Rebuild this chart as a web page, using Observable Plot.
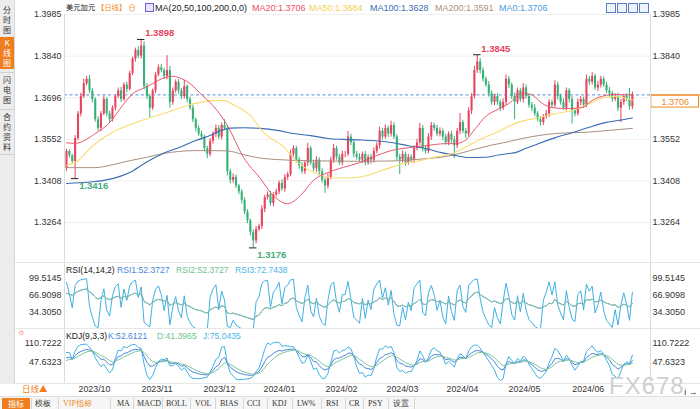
<!DOCTYPE html>
<html><head><meta charset="utf-8">
<script src="https://cdn.jsdelivr.net/npm/d3@7"></script>
<script src="https://cdn.jsdelivr.net/npm/@observablehq/plot@0.6"></script>
<style>
body{margin:0;background:#fff;}
#root{position:relative;width:700px;height:409px;overflow:hidden;font-family:"Liberation Sans",Arial,"Noto Sans CJK SC",sans-serif;color:#222;}
.a{position:absolute;white-space:nowrap;line-height:11px;font-size:9px;}
.cjk{font-family:"Noto Sans CJK SC",sans-serif;}
.side{position:absolute;left:0;width:14px;text-align:center;font-family:"Noto Sans CJK SC",sans-serif;font-size:8px;line-height:10px;color:#333;}
.svgwrap{position:absolute;left:0;}
.tb{position:absolute;top:398px;height:11px;line-height:11px;font-size:8px;font-family:"Liberation Serif",serif;color:#333;white-space:nowrap;}
.sep{position:absolute;top:398px;width:1px;height:11px;background:#d6d6d6;}
.ico{position:absolute;top:3px;width:8px;height:8px;border:1px solid #5a7fc4;background:#eef3fc;}
</style></head>
<body><div id="root"></div>
<script>
// ---------------- DATA ----------------
const firstOpen = 1.3451;
const closes = [
1.3510,1.3495,1.3475,1.3555,1.3640,1.3700,1.3745,1.3760,1.3720,1.3690,
1.3620,1.3590,1.3640,1.3690,1.3640,1.3620,1.3660,1.3700,1.3720,1.3690,
1.3740,1.3725,1.3780,1.3830,1.3860,1.3840,1.3875,1.3735,1.3700,1.3660,
1.3720,1.3775,1.3800,1.3790,1.3770,1.3790,1.3680,1.3720,1.3750,1.3720,
1.3700,1.3735,1.3690,1.3660,1.3620,1.3590,1.3570,1.3560,1.3520,1.3500,
1.3545,1.3570,1.3590,1.3560,1.3600,1.3590,1.3440,1.3410,1.3420,1.3390,
1.3370,1.3340,1.3300,1.3270,1.3230,1.3200,1.3240,1.3250,1.3310,1.3350,
1.3360,1.3330,1.3360,1.3370,1.3400,1.3380,1.3420,1.3430,1.3500,1.3520,
1.3480,1.3460,1.3440,1.3470,1.3520,1.3470,1.3450,1.3480,1.3440,1.3410,
1.3390,1.3420,1.3480,1.3520,1.3490,1.3470,1.3500,1.3500,1.3560,1.3540,
1.3500,1.3490,1.3480,1.3500,1.3470,1.3490,1.3480,1.3510,1.3530,1.3580,
1.3560,1.3590,1.3570,1.3600,1.3560,1.3490,1.3480,1.3500,1.3470,1.3490,
1.3480,1.3520,1.3540,1.3590,1.3520,1.3510,1.3560,1.3600,1.3590,1.3570,
1.3580,1.3560,1.3540,1.3570,1.3550,1.3530,1.3580,1.3610,1.3580,1.3570,
1.3650,1.3700,1.3790,1.3820,1.3790,1.3760,1.3740,1.3710,1.3680,1.3700,
1.3680,1.3660,1.3680,1.3760,1.3740,1.3700,1.3680,1.3720,1.3690,1.3730,
1.3700,1.3670,1.3660,1.3640,1.3620,1.3610,1.3630,1.3640,1.3680,1.3670,
1.3740,1.3700,1.3680,1.3660,1.3720,1.3690,1.3650,1.3640,1.3680,1.3690,
1.3670,1.3760,1.3750,1.3770,1.3730,1.3740,1.3760,1.3740,1.3720,1.3710,
1.3690,1.3700,1.3660,1.3680,1.3700,1.3690,1.3665,1.3706];
// upper / lower wick lengths in pips
const upWick = [
8,6,5,10,8,12,15,10,12,8, 6,10,8,12,6,10,8,6,10,12, 8,10,8,6,8,12,23,15,10,8,
6,8,10,12,8,52,15,10,8,10, 8,21,6,8,10,6,8,10,6,8, 10,8,12,10,8,20,10,8,12,8,
6,8,10,8,6,8,10,8,12,8, 10,12,8,10,8,12,10,8,15,10, 8,10,12,8,18,8,10,12,8,10,
8,12,10,15,8,10,12,10,19,10, 8,10,12,8,10,8,10,12,10,15, 10,12,8,15,10,8,10,12,8,10,
8,10,12,17,10,8,12,10,8,10, 12,8,10,8,10,12,10,31,8,10, 12,10,15,25,12,10,8,12,10,8,
10,8,12,15,10,8,12,10,8,15, 10,8,10,12,8,10,8,12,10,8, 15,10,8,12,10,8,10,8,12,10,
8,15,10,13,8,12,10,8,10,12, 8,10,12,10,8,10,38,10];
const loWick = [
10,8,6,59,8,10,6,8,10,12, 8,10,12,6,10,12,8,10,6,10, 8,12,6,8,10,8,10,12,10,33,
8,10,6,8,10,12,20,10,8,12, 10,8,12,8,10,12,8,10,12,15, 8,10,12,8,10,8,15,12,10,8,
10,12,8,10,12,24,10,8,10,12, 8,10,12,8,10,8,12,10,8,10, 10,12,8,10,12,8,10,12,15,10,
25,10,8,12,10,8,10,12,8,10, 12,10,8,12,10,8,15,10,8,12, 10,8,12,10,8,12,50,10,12,8,
10,12,8,10,12,10,8,12,10,8, 10,12,8,10,12,45,10,12,8,15, 10,12,8,10,12,10,8,12,10,12,
10,12,8,10,12,10,60,8,10,12, 8,10,12,10,8,12,10,8,12,10, 8,12,10,8,10,12,45,10,8,12,
10,8,12,10,8,12,10,8,10,12, 10,8,12,50,10,8,12,10];
// moving averages read at sample points: [candle index, value]
const ma20Pts = [[0,1.3540],[3,1.3538],[10,1.3572],[15,1.3610],[19.5,1.3669],[23,1.3710],[26.5,1.3728],[30,1.3745],[33.4,1.3763],[37,1.3770],[39,1.3766],[43,1.3745],[47.3,1.3704],[51,1.3669],[56,1.3600],[61.6,1.3490],[67.5,1.3416],[72,1.3357],[77,1.3329],[81.4,1.3357],[86,1.3410],[91,1.3437],[96.4,1.3455],[102,1.3471],[107.5,1.3494],[113,1.3513],[119,1.3523],[125,1.3530],[132,1.3537],[135.4,1.3537],[139,1.3550],[142.4,1.3590],[145.8,1.3630],[150.4,1.3657],[154,1.3676],[158.7,1.3712],[162,1.3706],[165.7,1.3676],[169,1.3662],[172.6,1.3659],[176,1.3659],[179.6,1.3662],[183,1.3687],[187.6,1.3704],[191,1.3708],[194.6,1.3706],[197,1.3706]];
const ma50Pts = [[0,1.3462],[4,1.3478],[8.4,1.3523],[15.3,1.3572],[23.3,1.3607],[29,1.3627],[35,1.3645],[42,1.3669],[46.6,1.3680],[52.6,1.3687],[55,1.3686],[58,1.3672],[64,1.3634],[68.6,1.3575],[75,1.3531],[81,1.3468],[87,1.3434],[93,1.3418],[98,1.3418],[104,1.3425],[110,1.3445],[117,1.3467],[123,1.3478],[129,1.3492],[134,1.3502],[140,1.3531],[145.8,1.3560],[151,1.3582],[154,1.3598],[158.7,1.3615],[164.2,1.3627],[170.2,1.3641],[176,1.3652],[180.6,1.3669],[184,1.3685],[187.6,1.3698],[191,1.3700],[197,1.3688]];
const ma100Pts = [[0,1.3399],[8,1.3404],[16,1.3416],[22,1.3437],[27.5,1.3471],[33.4,1.3502],[39,1.3523],[45,1.3548],[50,1.3565],[53.6,1.3582],[57,1.3591],[61.6,1.3592],[67.5,1.3590],[73.4,1.3583],[79,1.3572],[85,1.3565],[91,1.3555],[96.4,1.3552],[102.3,1.3550],[107.5,1.3547],[113,1.3541],[119,1.3530],[125,1.3520],[130.5,1.3506],[135.4,1.3496],[140,1.3489],[145.8,1.3490],[150.4,1.3498],[154,1.3503],[156.3,1.3506],[159.8,1.3520],[164.2,1.3537],[170.2,1.3558],[176,1.3575],[181.7,1.3593],[187.6,1.3610],[192,1.3617],[197,1.3626]];
const ma200Pts = [[0,1.3454],[10,1.3454],[16,1.3464],[22,1.3478],[27.5,1.3489],[33.4,1.3502],[39,1.3510],[45,1.3513],[51,1.3513],[56,1.3512],[61.6,1.3499],[67.5,1.3487],[73.4,1.3482],[79,1.3479],[85,1.3478],[91,1.3477],[102.3,1.3476],[113,1.3477],[125,1.3485],[130.5,1.3490],[136.4,1.3502],[142.4,1.3518],[148,1.3532],[153,1.3542],[158.7,1.3555],[164.2,1.3565],[170.2,1.3572],[176,1.3575],[181.7,1.3577],[187.6,1.3582],[197,1.3590]];
const yTicks = [1.3985,1.3840,1.3696,1.3552,1.3408,1.3264];
const rsiTicks = [99.5145,66.9098,34.3050];
const kdjTicks = [110.7222,47.6323];
const monthIdx = [4.2,26.1,47.7,68.6,90.2,111.4,132.3,153.9,176.1];
const monthLabels = ["2023/10","2023/11","2023/12","2024/01","2024/02","2024/03","2024/04","2024/05","2024/06"];
const lastPrice = 1.3706;
const extremes = [{i:3,kind:"lo"},{i:26,kind:"hi"},{i:65,kind:"lo"},{i:143,kind:"hi"}];
const maLegend = [["MA20:1.3706","#ee4d6a",252],["MA50:1.3684","#f0cf55",309],["MA100:1.3628","#3b6db3",370],["MA200:1.3591","#b48f7a",435],["MA0:1.3706","#4d9de0",499]];
const rsiLegend = [["RSI(14,14,2)","#222",66],["RSI1:52.3727","#4a86d8",117],["RSI2:52.3727","#6fc290",176],["RSI3:72.7438","#4cb4e6",235]];
const kdjLegend = [["KDJ(9,3,3)","#222",66],["K:52.6121","#4a86d8",108],["D:41.3965","#6fc290",157],["J:75.0435","#4cb4e6",203]];

// ---------------- build candles ----------------
const RED = "#e8445e", GREEN = "#38b079";
const opens = closes.map((c,i)=> i===0 ? firstOpen : closes[i-1]);
const highs = closes.map((c,i)=> Math.max(opens[i],c) + upWick[i]/1e4);
const lows  = closes.map((c,i)=> Math.min(opens[i],c) - loWick[i]/1e4);
const candles = closes.map((c,i)=>({i, o:opens[i], c, h:highs[i], l:lows[i]}));
const upC = candles.filter(d=>d.c>=d.o), dnC = candles.filter(d=>d.c<d.o);
const ext = extremes.map(e=>({i:e.i, kind:e.kind, v: e.kind==="hi"?highs[e.i]:lows[e.i]}));

// indicators from the candles
function wsma(arr,n,m,seed){let p=seed;return arr.map(x=>(p=(m*x+(n-m)*p)/n));}
function rsi(n){
  const d = closes.map((c,i)=>c-opens[i]);
  const up = d.map(x=>Math.max(x,0)), ab = d.map(Math.abs);
  const su = wsma(up,n,1,d3.mean(up.slice(0,n))), sa = wsma(ab,n,1,d3.mean(ab.slice(0,n)));
  return su.map((u,i)=> sa[i]>0 ? u/sa[i]*100 : 50);
}
const r1 = rsi(14), r3 = rsi(2);
const rsiData = closes.map((c,i)=>({i, r1:r1[i], r2:r1[i], r3:r3[i]}));
const rsv = closes.map((c,i)=>{const s=Math.max(0,i-8);const lo=d3.min(lows.slice(s,i+1)),hi=d3.max(highs.slice(s,i+1));return (c-lo)/(hi-lo)*100;});
const K = wsma(rsv,3,1,50), D = wsma(K,3,1,50);
const kdjData = closes.map((c,i)=>({i, k:K[i], d:D[i], j:3*K[i]-2*D[i]}));

// ---------------- layout ----------------
const root = document.getElementById("root");
function el(html){root.insertAdjacentHTML("beforeend",html);}
const XD = [-0.7,203.3];
const base = {width:700, marginLeft:64, marginRight:50, marginTop:0, style:{background:"transparent",fontFamily:"Liberation Sans, Arial, sans-serif",overflow:"visible"}};
function place(svg, top){const w=document.createElement("div");w.className="svgwrap";w.style.top=top+"px";w.appendChild(svg);root.appendChild(w);}
const tickFmt4 = d=>d.toFixed(4);

// main price panel
const main = Plot.plot({...base, height:262, marginBottom:0,
  x:{domain:XD, axis:null},
  y:{domain:[1.31254,1.40329], axis:null},
  marks:[
    Plot.gridY(yTicks,{stroke:"#efefef",strokeOpacity:1}),
    Plot.ruleY([lastPrice],{stroke:"#4f92dc",strokeDasharray:"3,2.5",strokeWidth:1}),
    Plot.ruleX(upC,{x:"i",y1:"l",y2:"h",stroke:RED,strokeWidth:1}),
    Plot.ruleX(dnC,{x:"i",y1:"l",y2:"h",stroke:GREEN,strokeWidth:1}),
    Plot.ruleX(upC,{x:"i",y1:"o",y2:"c",stroke:RED,strokeWidth:2.1}),
    Plot.ruleX(dnC,{x:"i",y1:"o",y2:"c",stroke:GREEN,strokeWidth:2.1}),
    Plot.line(ma200Pts,{x:d=>d[0],y:d=>d[1],stroke:"#a98e80",strokeWidth:1,curve:"monotone-x"}),
    Plot.line(ma100Pts,{x:d=>d[0],y:d=>d[1],stroke:"#3a6cb4",strokeWidth:1.1,curve:"monotone-x"}),
    Plot.line(ma50Pts,{x:d=>d[0],y:d=>d[1],stroke:"#f7dc72",strokeWidth:1.1,curve:"monotone-x"}),
    Plot.line(ma20Pts,{x:d=>d[0],y:d=>d[1],stroke:"#e8586e",strokeWidth:1,curve:"monotone-x"}),
    Plot.ruleY(ext,{y:"v",x1:d=>d.i-1.3,x2:d=>d.i+1.3,stroke:"#222",strokeWidth:1}),
    Plot.text(ext,{x:"i",y:"v",text:d=>d.v.toFixed(4),dx:4,dy:-6,textAnchor:"start",fontSize:9.5,fontWeight:"bold",
      fill:RED, filter:d=>d.kind==="hi"}),
    Plot.text(ext,{x:"i",y:"v",text:d=>d.v.toFixed(4),dx:4,dy:7,textAnchor:"start",fontSize:9.5,fontWeight:"bold",
      fill:"#3fae7c", filter:d=>d.kind==="lo"}),
    Plot.axisY(yTicks,{anchor:"left",tickSize:0,tickPadding:3,tickFormat:tickFmt4,fontSize:9,fill:"#333"}),
    Plot.axisY(yTicks,{anchor:"right",tickSize:0,tickPadding:2,tickFormat:tickFmt4,fontSize:9,fill:"#333"}),
    Plot.ruleY([lastPrice],{x1:XD[1],x2:XD[1]+17.5,stroke:"#f0891f",strokeWidth:1}),
    Plot.rect([lastPrice],{x1:XD[1]+0.3,x2:XD[1]+16.9,y1:d=>d-0.0003,y2:d=>d-0.0044,fill:"#fff",stroke:"#f0891f",strokeWidth:1}),
    Plot.text([lastPrice],{x:XD[1]+8.6,y:d=>d-0.00235,text:d=>d.toFixed(4),fill:"#f0891f",fontSize:9})
  ]});
place(main,0);

// RSI panel
const rsiPlot = Plot.plot({...base, height:67, marginBottom:0,
  x:{domain:XD, axis:null},
  y:{domain:[1.7,130.2], axis:null},
  marks:[
    Plot.line(rsiData,{x:"i",y:"r3",stroke:"#3fb0e3",strokeWidth:1,clip:true}),
    Plot.line(rsiData,{x:"i",y:"r1",stroke:"#4a86d8",strokeWidth:1,clip:true}),
    Plot.line(rsiData,{x:"i",y:"r2",stroke:"#86c9a0",strokeWidth:1,clip:true}),
    Plot.axisY(rsiTicks,{anchor:"left",tickSize:0,tickPadding:3,tickFormat:tickFmt4,fontSize:9,fill:"#333"}),
    Plot.axisY(rsiTicks,{anchor:"right",tickSize:0,tickPadding:2,tickFormat:tickFmt4,fontSize:9,fill:"#333"})
  ]});
place(rsiPlot,262);

// KDJ panel + time axis
const monthMap = new Map(monthIdx.map((m,k)=>[m,monthLabels[k]]));
const kdjPlot = Plot.plot({...base, height:68, marginBottom:14,
  x:{domain:XD, axis:null},
  y:{domain:[-22.1,157.2], axis:null},
  marks:[
    Plot.line(kdjData,{x:"i",y:"j",stroke:"#3fb0e3",strokeWidth:1,clip:true}),
    Plot.line(kdjData,{x:"i",y:"k",stroke:"#4a86d8",strokeWidth:1,clip:true}),
    Plot.line(kdjData,{x:"i",y:"d",stroke:"#7cc49a",strokeWidth:1,clip:true}),
    Plot.axisY(kdjTicks,{anchor:"left",tickSize:0,tickPadding:3,tickFormat:tickFmt4,fontSize:9,fill:"#333"}),
    Plot.axisY(kdjTicks,{anchor:"right",tickSize:0,tickPadding:2,tickFormat:tickFmt4,fontSize:9,fill:"#333"}),
    Plot.axisX(monthIdx,{anchor:"bottom",tickSize:0,tickPadding:2,textAnchor:"start",tickFormat:d=>monthMap.get(d),fontSize:8.8,fill:"#333"})
  ]});
place(kdjPlot,329);

// frame lines
el('<div class="a" style="left:64px;top:14px;width:1px;height:369px;background:#dcdcdc"></div>');
el('<div class="a" style="left:650px;top:14px;width:1px;height:369px;background:#dcdcdc"></div>');
el('<div class="a" style="left:14px;top:262px;width:686px;height:1px;background:#e6e6e6"></div>');
el('<div class="a" style="left:14px;top:328px;width:686px;height:1px;background:#e6e6e6"></div>');
el('<div class="a" style="left:14px;top:383px;width:686px;height:1px;background:#e6e6e6"></div>');

// sidebar
el('<div class="a" style="left:0;top:0;width:14px;height:384px;background:#ececec;border-right:1px solid #d8d8d8"></div>');
el('<div class="side" style="top:5px">分<br>时<br>图</div>');
el('<div class="a" style="left:0;top:37px;width:14px;height:32px;background:#f07e1e"></div>');
el('<div class="side" style="top:38px;color:#fff">K<br>线<br>图</div>');
el('<div class="side" style="top:75px">闪<br>电<br>图</div>');
el('<div class="side" style="top:112px">合<br>约<br>资<br>料</div>');
el('<div class="a" style="left:0;top:72px;width:14px;height:1px;background:#d0d0d0"></div>');
el('<div class="a" style="left:0;top:109px;width:14px;height:1px;background:#d0d0d0"></div>');
el('<div class="a" style="left:0;top:154px;width:14px;height:1px;background:#d0d0d0"></div>');

// header
el('<div class="a cjk" style="left:66px;top:2px;font-size:7.3px;color:#111">美元加元</div>');
el('<div class="a cjk" style="left:97px;top:2px;font-size:7.3px;color:#f08a24">【日线】</div>');
el('<div class="a" style="left:128px;top:3px;font-size:8px;color:#f08a24">⊖</div>');
el('<div class="a" style="left:145px;top:3px;width:7px;height:7px;border:1px solid #6b5bd6;background:#e9e4ff"></div>');
el('<div class="a" style="left:155px;top:3px;color:#222">MA(20,50,100,200,0,0)</div>');
maLegend.forEach(([t,c,x])=>el(`<div class="a" style="left:${x}px;top:3px;color:${c}">${t}</div>`));
[606,617,628,639].forEach(x=>el(`<div class="ico" style="left:${x}px"></div>`));

// indicator titles
rsiLegend.forEach(([t,c,x])=>el(`<div class="a" style="left:${x}px;top:265px;font-size:8.6px;color:${c}">${t}</div>`));
kdjLegend.forEach(([t,c,x])=>el(`<div class="a" style="left:${x}px;top:331px;font-size:8.6px;color:${c}">${t}</div>`));
el('<div class="a" style="left:17px;top:327px;font-size:9px;line-height:10px;color:#e33">☼</div>');

// bottom bar
el('<div class="a cjk" style="left:22px;top:383px;font-size:8.5px;color:#f07e1e">日线▲</div>');
el('<div class="a" style="left:609px;top:373px;font-size:24px;line-height:26px;color:#cfcfcf;letter-spacing:1px">FX678</div>');
el('<div class="a" style="left:0;top:396px;width:700px;height:13px;background:#f6f6f6;border-top:1px solid #dedede"></div>');
el('<div class="a cjk" style="left:2px;top:398px;width:28px;height:11px;background:#f07e1e;color:#fff;font-size:8px;text-align:center">指标</div>');
const tbItems=[["模板",35,"#333"],["VIP指标",63,"#f08a24"],["MA",117,"#333"],["MACD",137,"#333"],["BOLL",166,"#333"],["VOL",195,"#333"],["BIAS",220,"#333"],["CCI",247,"#333"],["KDJ",272,"#333"],["LW%",297,"#333"],["RSI",326,"#333"],["CR",349,"#333"],["PSY",368,"#333"],["设置",393,"#333"]];
tbItems.forEach(([t,x,c])=>el(`<div class="tb${/[^\x00-\x7f]/.test(t)?' cjk':''}" style="left:${x}px;color:${c}">${t}</div>`));
[31,58,110,133,162,190,215,243,267,292,321,345,363,388,414].forEach(x=>el(`<div class="sep" style="left:${x}px"></div>`));
</script></body></html>
